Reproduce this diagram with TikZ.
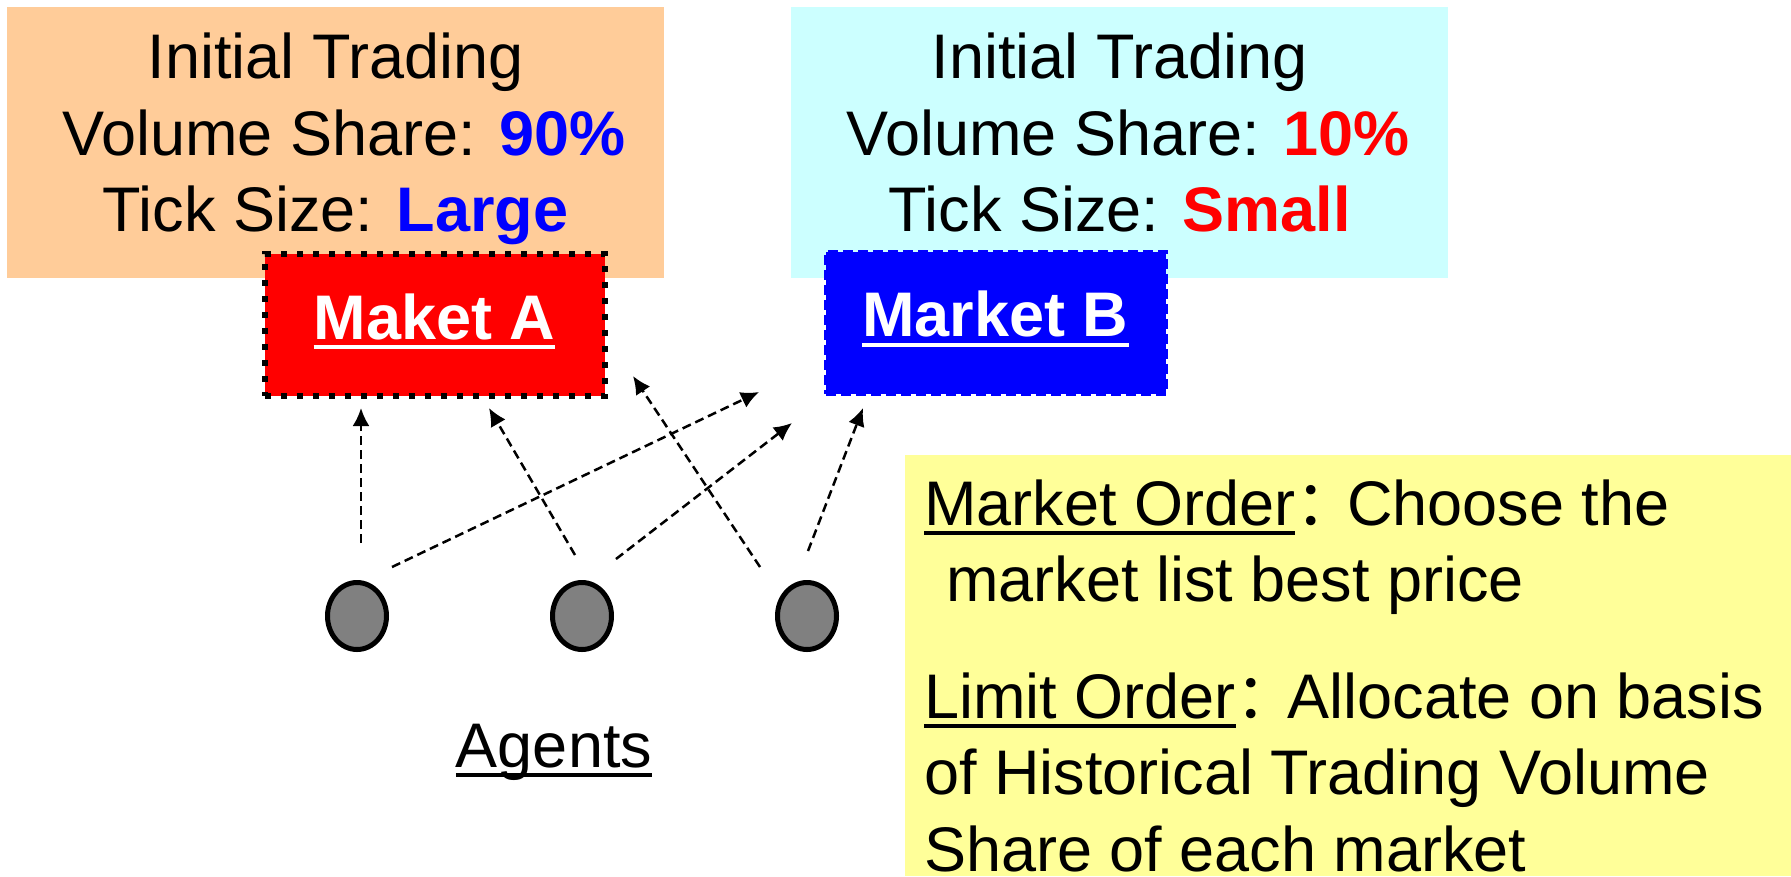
\documentclass[tikz,border=0pt]{standalone}
\usepackage{fontspec}
\setmainfont{Liberation Sans}
\newfontfamily\cjk{Noto Sans CJK SC}
\usetikzlibrary{arrows.meta,shapes.geometric}

\definecolor{boxorange}{HTML}{FFCC99}
\definecolor{boxcyan}{HTML}{CCFFFF}
\definecolor{boxyellow}{HTML}{FFFF99}
\definecolor{agentgray}{HTML}{808080}

% underline with a fixed rule
\newcommand\ultext[1]{\setbox0\hbox{#1}\rlap{\rule[-10pt]{\wd0}{4pt}}\box0}
% full width colon, set a little tighter
\newcommand\wcolon{\makebox[52pt][l]{\cjk ：}}

\begin{document}
\begin{tikzpicture}[x=1pt,
            y=-1pt,
            >={Latex[length=18pt,width=17pt]},
            node distance=225pt,
            font=\fontsize{63}{76.5}\selectfont,
            info/.style={minimum width=657pt,minimum height=271pt,inner sep=0pt,align=center},
            market/.style={minimum width=340pt,minimum height=142pt,inner sep=0pt,text depth=17pt,
                           text=white,font=\fontsize{63}{76.5}\selectfont\bfseries},
            agent/.style={ellipse,draw,line width=5pt,fill=agentgray,
                          minimum width=59pt,minimum height=67pt,inner sep=0pt},
            flow/.style={->,line width=2.5pt,dash pattern=on 9pt off 5pt}]

        \useasboundingbox (0,0) rectangle (1791,876);

        % initial settings of both markets
        \node[info,fill=boxorange] (initA) at (335.5,142.5)
            {Initial Trading\\\hspace*{17.5pt}Volume Share: {\bfseries\color{blue}90\%}\\
             Tick Size: {\bfseries\color{blue}Large}\rule[-20pt]{0pt}{0pt}};
        \node[info,fill=boxcyan]   (initB) at (1119.5,142.5)
            {Initial Trading\\\hspace*{17.5pt}Volume Share: {\bfseries\color{red}10\%}\\
             Tick Size: {\bfseries\color{red}Small}\rule[-20pt]{0pt}{0pt}};

        \node[market,fill=red,draw=black,line width=6pt,dash pattern=on 6pt off 10pt] (mA) at (434.5,325)
            {\ultext{Maket A}};
        \node[market,fill=blue,draw=blue,line width=4pt,dash pattern=on 10pt off 5pt] (mB) at (995.5,322.5)
            {\ultext{Market B}};

        % agents
        \node[agent] (c1) at (357,616) {};
        \node[agent] (c2) [right of=c1] {};
        \node[agent] (c3) [right of=c2] {};
        \node[anchor=base] (agents) at (554,767) {\ultext{Agents}};

        % order rules
        \fill[boxyellow] (905,455) rectangle (1791,876);
        \node[anchor=north west,minimum height=421pt,
              inner xsep=19pt,inner ysep=0pt,align=left] (orders) at (905,455)
            {\rule{0pt}{66pt}\ultext{Market Order}\wcolon Choose the\\
             \hspace*{22pt}market list best price\\[40pt]
             \ultext{Limit Order}\wcolon Allocate on basis\\
             of Historical Trading Volume\\
             Share of each market};

        % order flow
        \coordinate (s1) at (361,543); \coordinate (t1) at (361,408);
        \coordinate (s2) at (575,555); \coordinate (t2) at (489,408);
        \coordinate (s3) at (760,567); \coordinate (t3) at (633,376);
        \coordinate (s4) at (392,567); \coordinate (t4) at (759,392);
        \coordinate (s5) at (616,559); \coordinate (t5) at (792,423);
        \coordinate (s6) at (808,551); \coordinate (t6) at (863,408);

        \path (s1) edge[flow] (t1)
              (s2) edge[flow] (t2)
              (s3) edge[flow] (t3)
              (s4) edge[flow] (t4)
              (s5) edge[flow] (t5)
              (s6) edge[flow] (t6);

    \end{tikzpicture}
\end{document}
